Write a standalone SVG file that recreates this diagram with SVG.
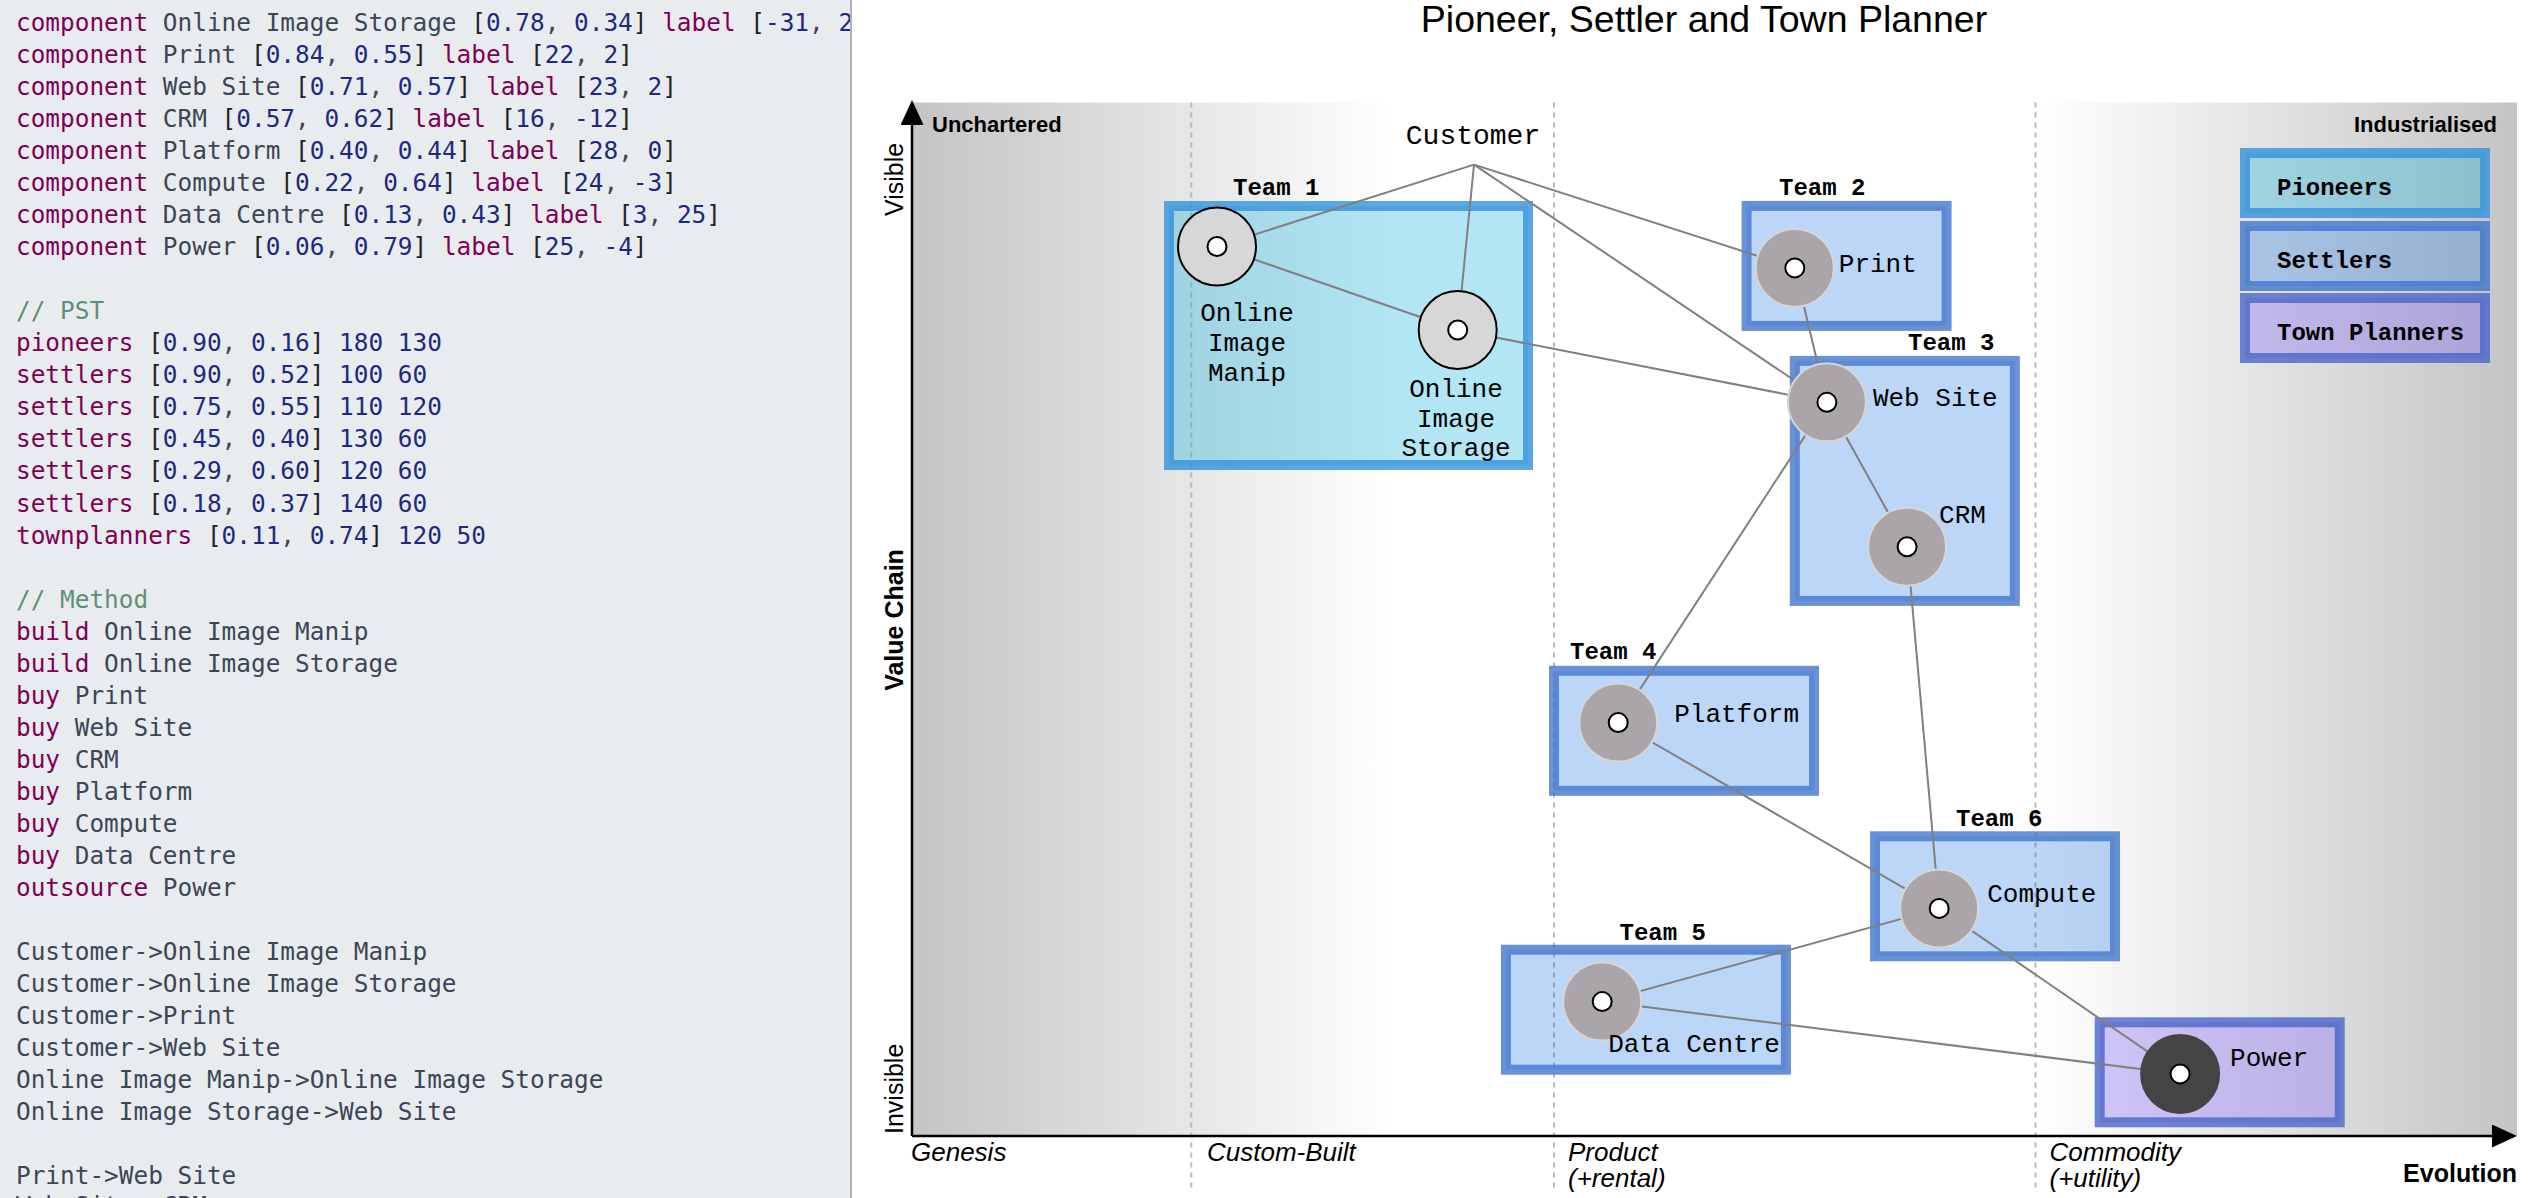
<svg xmlns="http://www.w3.org/2000/svg" width="2534" height="1198" viewBox="0 0 2534 1198">
<defs>
<linearGradient id="wg" x1="0" y1="0" x2="1" y2="0">
<stop offset="0" stop-color="#c4c4c4"/>
<stop offset="0.3" stop-color="#ffffff"/>
<stop offset="0.7" stop-color="#ffffff"/>
<stop offset="1" stop-color="#c4c4c4"/>
</linearGradient>
<clipPath id="edclip"><rect x="0" y="0" width="850" height="1198"/></clipPath>
<marker id="axarrow" viewBox="0 0 25 23" refX="0" refY="11.5" markerWidth="25" markerHeight="23" markerUnits="userSpaceOnUse" orient="auto">
<path d="M0,0 L25,11.5 L0,23 Z" fill="#000"/>
</marker>
<style>
.code{font-family:"DejaVu Sans Mono","Liberation Mono",monospace;font-size:24.4px;fill:#3b4658}
.kw{fill:#7f0055}
.num{fill:#1d2a80}
.br{fill:#222}
.cm{fill:#5f8f75}
.axis{stroke:#000;stroke-width:2.5;fill:none}
.grid{stroke:#b8b8b8;stroke-width:2;stroke-dasharray:5,5}
.sans{font-family:"Liberation Sans",Arial,sans-serif}
.axlab{font-family:"Liberation Sans",Arial,sans-serif;font-size:25px;fill:#000}
.evo{font-family:"Liberation Sans",Arial,sans-serif;font-size:26px;font-style:italic;fill:#000}
.pion{fill:rgb(0,172,222);fill-opacity:0.3;stroke:rgb(51,146,219);stroke-opacity:0.8;stroke-width:10}
.sett{fill:rgb(32,118,232);fill-opacity:0.3;stroke:rgb(66,117,204);stroke-opacity:0.8;stroke-width:10}
.town{fill:rgb(114,80,247);fill-opacity:0.3;stroke:rgb(74,101,201);stroke-opacity:0.8;stroke-width:10}
.team{font-family:"Liberation Mono","Courier New",monospace;font-size:24px;font-weight:bold;fill:#000}
.link{stroke:#808080;stroke-width:2;fill:none}
.build{fill:#d7d7d7;stroke:#000;stroke-width:2}
.buy{fill:#aaa5a9;stroke:#d6d6d6;stroke-width:2}
.outs{fill:#444444;stroke:#444444;stroke-width:2}
.dot{fill:#fff;stroke:#000;stroke-width:2}
.lbl{font-family:"Liberation Mono","Courier New",monospace;font-size:26px;fill:#000}
</style>
</defs>

<!-- editor panel -->
<g id="editor">
<rect x="0" y="0" width="852" height="1198" fill="#e9ecef"/>
<line x1="851" y1="0" x2="851" y2="1198" stroke="#aeb3b8" stroke-width="2"/>
<g clip-path="url(#edclip)" class="code">
<text x="16" y="31"><tspan class="kw">component</tspan> Online Image Storage <tspan class="br">[</tspan><tspan class="num">0.78</tspan>, <tspan class="num">0.34</tspan><tspan class="br">]</tspan> <tspan class="kw">label</tspan> <tspan class="br">[</tspan><tspan class="num">-31</tspan>, <tspan class="num">24</tspan><tspan class="br">]</tspan></text>
<text x="16" y="63"><tspan class="kw">component</tspan> Print <tspan class="br">[</tspan><tspan class="num">0.84</tspan>, <tspan class="num">0.55</tspan><tspan class="br">]</tspan> <tspan class="kw">label</tspan> <tspan class="br">[</tspan><tspan class="num">22</tspan>, <tspan class="num">2</tspan><tspan class="br">]</tspan></text>
<text x="16" y="95.1"><tspan class="kw">component</tspan> Web Site <tspan class="br">[</tspan><tspan class="num">0.71</tspan>, <tspan class="num">0.57</tspan><tspan class="br">]</tspan> <tspan class="kw">label</tspan> <tspan class="br">[</tspan><tspan class="num">23</tspan>, <tspan class="num">2</tspan><tspan class="br">]</tspan></text>
<text x="16" y="127.1"><tspan class="kw">component</tspan> CRM <tspan class="br">[</tspan><tspan class="num">0.57</tspan>, <tspan class="num">0.62</tspan><tspan class="br">]</tspan> <tspan class="kw">label</tspan> <tspan class="br">[</tspan><tspan class="num">16</tspan>, <tspan class="num">-12</tspan><tspan class="br">]</tspan></text>
<text x="16" y="159.1"><tspan class="kw">component</tspan> Platform <tspan class="br">[</tspan><tspan class="num">0.40</tspan>, <tspan class="num">0.44</tspan><tspan class="br">]</tspan> <tspan class="kw">label</tspan> <tspan class="br">[</tspan><tspan class="num">28</tspan>, <tspan class="num">0</tspan><tspan class="br">]</tspan></text>
<text x="16" y="191.2"><tspan class="kw">component</tspan> Compute <tspan class="br">[</tspan><tspan class="num">0.22</tspan>, <tspan class="num">0.64</tspan><tspan class="br">]</tspan> <tspan class="kw">label</tspan> <tspan class="br">[</tspan><tspan class="num">24</tspan>, <tspan class="num">-3</tspan><tspan class="br">]</tspan></text>
<text x="16" y="223.2"><tspan class="kw">component</tspan> Data Centre <tspan class="br">[</tspan><tspan class="num">0.13</tspan>, <tspan class="num">0.43</tspan><tspan class="br">]</tspan> <tspan class="kw">label</tspan> <tspan class="br">[</tspan><tspan class="num">3</tspan>, <tspan class="num">25</tspan><tspan class="br">]</tspan></text>
<text x="16" y="255.2"><tspan class="kw">component</tspan> Power <tspan class="br">[</tspan><tspan class="num">0.06</tspan>, <tspan class="num">0.79</tspan><tspan class="br">]</tspan> <tspan class="kw">label</tspan> <tspan class="br">[</tspan><tspan class="num">25</tspan>, <tspan class="num">-4</tspan><tspan class="br">]</tspan></text>
<text x="16" y="319.3" class="cm">// PST</text>
<text x="16" y="351.3"><tspan class="kw">pioneers</tspan> <tspan class="br">[</tspan><tspan class="num">0.90</tspan>, <tspan class="num">0.16</tspan><tspan class="br">]</tspan> <tspan class="num">180</tspan> <tspan class="num">130</tspan></text>
<text x="16" y="383.3"><tspan class="kw">settlers</tspan> <tspan class="br">[</tspan><tspan class="num">0.90</tspan>, <tspan class="num">0.52</tspan><tspan class="br">]</tspan> <tspan class="num">100</tspan> <tspan class="num">60</tspan></text>
<text x="16" y="415.4"><tspan class="kw">settlers</tspan> <tspan class="br">[</tspan><tspan class="num">0.75</tspan>, <tspan class="num">0.55</tspan><tspan class="br">]</tspan> <tspan class="num">110</tspan> <tspan class="num">120</tspan></text>
<text x="16" y="447.4"><tspan class="kw">settlers</tspan> <tspan class="br">[</tspan><tspan class="num">0.45</tspan>, <tspan class="num">0.40</tspan><tspan class="br">]</tspan> <tspan class="num">130</tspan> <tspan class="num">60</tspan></text>
<text x="16" y="479.4"><tspan class="kw">settlers</tspan> <tspan class="br">[</tspan><tspan class="num">0.29</tspan>, <tspan class="num">0.60</tspan><tspan class="br">]</tspan> <tspan class="num">120</tspan> <tspan class="num">60</tspan></text>
<text x="16" y="511.5"><tspan class="kw">settlers</tspan> <tspan class="br">[</tspan><tspan class="num">0.18</tspan>, <tspan class="num">0.37</tspan><tspan class="br">]</tspan> <tspan class="num">140</tspan> <tspan class="num">60</tspan></text>
<text x="16" y="543.5"><tspan class="kw">townplanners</tspan> <tspan class="br">[</tspan><tspan class="num">0.11</tspan>, <tspan class="num">0.74</tspan><tspan class="br">]</tspan> <tspan class="num">120</tspan> <tspan class="num">50</tspan></text>
<text x="16" y="607.5" class="cm">// Method</text>
<text x="16" y="639.6"><tspan class="kw">build</tspan> Online Image Manip</text>
<text x="16" y="671.6"><tspan class="kw">build</tspan> Online Image Storage</text>
<text x="16" y="703.6"><tspan class="kw">buy</tspan> Print</text>
<text x="16" y="735.7"><tspan class="kw">buy</tspan> Web Site</text>
<text x="16" y="767.7"><tspan class="kw">buy</tspan> CRM</text>
<text x="16" y="799.7"><tspan class="kw">buy</tspan> Platform</text>
<text x="16" y="831.8"><tspan class="kw">buy</tspan> Compute</text>
<text x="16" y="863.8"><tspan class="kw">buy</tspan> Data Centre</text>
<text x="16" y="895.8"><tspan class="kw">outsource</tspan> Power</text>
<text x="16" y="959.9">Customer-&gt;Online Image Manip</text>
<text x="16" y="991.9">Customer-&gt;Online Image Storage</text>
<text x="16" y="1023.9">Customer-&gt;Print</text>
<text x="16" y="1056">Customer-&gt;Web Site</text>
<text x="16" y="1088">Online Image Manip-&gt;Online Image Storage</text>
<text x="16" y="1120">Online Image Storage-&gt;Web Site</text>
<text x="16" y="1184.1">Print-&gt;Web Site</text>
<text x="16" y="1214">Web Site-&gt;CRM</text>
</g>
</g>

<!-- map frame -->
<g id="map-frame">
<rect x="912" y="102.6" width="1605" height="1033.4" fill="url(#wg)"/>
<line class="grid" x1="1191.3" y1="102.6" x2="1191.3" y2="1190"/>
<line class="grid" x1="1554" y1="102.6" x2="1554" y2="1190"/>
<line class="grid" x1="2035.5" y1="102.6" x2="2035.5" y2="1190"/>
<line class="axis" x1="912" y1="1136" x2="912" y2="125" marker-end="url(#axarrow)"/>
<line class="axis" x1="912" y1="1136" x2="2492" y2="1136" marker-end="url(#axarrow)"/>
<text class="sans" x="1704" y="32" text-anchor="middle" font-size="37.5" fill="#000">Pioneer, Settler and Town Planner</text>
<text class="sans" x="932" y="132" font-size="22" font-weight="bold" fill="#000">Unchartered</text>
<text class="sans" x="2497" y="132" font-size="22" font-weight="bold" fill="#000" text-anchor="end">Industrialised</text>
<text class="axlab" transform="translate(903,216) rotate(-90)">Visible</text>
<text class="axlab" transform="translate(903,620) rotate(-90)" text-anchor="middle" font-weight="bold">Value Chain</text>
<text class="axlab" transform="translate(903,1134) rotate(-90)">Invisible</text>
<text class="evo" x="911" y="1161">Genesis</text>
<text class="evo" x="1207" y="1161">Custom-Built</text>
<text class="evo" x="1568" y="1161">Product</text>
<text class="evo" x="1568" y="1187">(+rental)</text>
<text class="evo" x="2049.5" y="1161">Commodity</text>
<text class="evo" x="2049.5" y="1187">(+utility)</text>
<text class="axlab" x="2517" y="1182" text-anchor="end" font-weight="bold">Evolution</text>
</g>

<!-- teams (PST boxes) -->
<g id="team1"><rect class="pion" x="1169" y="206" width="359" height="259"/><text class="team" x="1233" y="195">Team 1</text></g>
<g id="team2"><rect class="sett" x="1746.6" y="205.9" width="200" height="120"/><text class="team" x="1779" y="195">Team 2</text></g>
<g id="team3"><rect class="sett" x="1794.8" y="360.9" width="220" height="240"/><text class="team" x="1908" y="350">Team 3</text></g>
<g id="team4"><rect class="sett" x="1554" y="670.8" width="260" height="120"/><text class="team" x="1570" y="659">Team 4</text></g>
<g id="team5"><rect class="sett" x="1505.9" y="949.7" width="280" height="120"/><text class="team" x="1619.5" y="940">Team 5</text></g>
<g id="team6"><rect class="sett" x="1875" y="836.3" width="240" height="120"/><text class="team" x="1956" y="826">Team 6</text></g>
<g id="townplanners-box"><rect class="town" x="2099.7" y="1022.3" width="240" height="100"/></g>

<!-- legend -->
<g id="legend-pioneers"><rect class="pion" x="2245" y="153" width="240" height="60"/><text class="team" x="2277" y="195">Pioneers</text></g>
<g id="legend-settlers"><rect class="sett" x="2245" y="226" width="240" height="60"/><text class="team" x="2277" y="267.5">Settlers</text></g>
<g id="legend-townplanners"><rect class="town" x="2245" y="298" width="240" height="60"/><text class="team" x="2277" y="340">Town Planners</text></g>

<!-- connectors -->
<g id="connectors" class="link">
<line x1="1474" y1="164.6" x2="1217" y2="246.5"/>
<line x1="1474" y1="164.6" x2="1457.7" y2="330"/>
<line x1="1474" y1="164.6" x2="1794.8" y2="267.9"/>
<line x1="1474" y1="164.6" x2="1826.9" y2="402.3"/>
<line x1="1217" y1="246.5" x2="1457.7" y2="330"/>
<line x1="1457.7" y1="330" x2="1826.9" y2="402.3"/>
<line x1="1794.8" y1="267.9" x2="1826.9" y2="402.3"/>
<line x1="1826.9" y1="402.3" x2="1907.1" y2="546.8"/>
<line x1="1826.9" y1="402.3" x2="1618.2" y2="722.6"/>
<line x1="1907.1" y1="546.8" x2="1939.2" y2="908.4"/>
<line x1="1618.2" y1="722.6" x2="1939.2" y2="908.4"/>
<line x1="1939.2" y1="908.4" x2="1602.2" y2="1001.6"/>
<line x1="1939.2" y1="908.4" x2="2180.1" y2="1073.9"/>
<line x1="1602.2" y1="1001.6" x2="2180.1" y2="1073.9"/>
</g>

<!-- components -->
<g id="customer"><text x="1473" y="144" text-anchor="middle" font-family="'Liberation Mono','Courier New',monospace" font-size="28" fill="#000">Customer</text></g>
<g id="online-image-manip"><circle class="build" cx="1217" cy="246.5" r="39"/><circle class="dot" cx="1217" cy="246.5" r="9.5"/>
<text class="lbl" text-anchor="middle"><tspan x="1247" y="321">Online</tspan><tspan x="1247" y="351">Image</tspan><tspan x="1247" y="381">Manip</tspan></text></g>
<g id="online-image-storage"><circle class="build" cx="1457.7" cy="330" r="39"/><circle class="dot" cx="1457.7" cy="330" r="9.5"/>
<text class="lbl" text-anchor="middle"><tspan x="1456" y="397">Online</tspan><tspan x="1456" y="427">Image</tspan><tspan x="1456" y="456">Storage</tspan></text></g>
<g id="print"><circle class="buy" cx="1794.8" cy="267.9" r="39"/><circle class="dot" cx="1794.8" cy="267.9" r="9.5"/><text class="lbl" x="1838.8" y="271.9">Print</text></g>
<g id="web-site"><circle class="buy" cx="1826.9" cy="402.3" r="39"/><circle class="dot" cx="1826.9" cy="402.3" r="9.5"/><text class="lbl" x="1872.9" y="406.3">Web Site</text></g>
<g id="crm"><circle class="buy" cx="1907.1" cy="546.8" r="39"/><circle class="dot" cx="1907.1" cy="546.8" r="9.5"/><text class="lbl" x="1939.1" y="522.8">CRM</text></g>
<g id="platform"><circle class="buy" cx="1618.2" cy="722.6" r="39"/><circle class="dot" cx="1618.2" cy="722.6" r="9.5"/><text class="lbl" x="1674.2" y="721.6">Platform</text></g>
<g id="compute"><circle class="buy" cx="1939.2" cy="908.4" r="39"/><circle class="dot" cx="1939.2" cy="908.4" r="9.5"/><text class="lbl" x="1987.2" y="902.4">Compute</text></g>
<g id="data-centre"><circle class="buy" cx="1602.2" cy="1001.6" r="39"/><circle class="dot" cx="1602.2" cy="1001.6" r="9.5"/><text class="lbl" x="1608.2" y="1051.6">Data Centre</text></g>
<g id="power"><circle class="outs" cx="2180.1" cy="1073.9" r="39"/><circle class="dot" cx="2180.1" cy="1073.9" r="9.5"/><text class="lbl" x="2230.1" y="1065.9">Power</text></g>
</svg>
